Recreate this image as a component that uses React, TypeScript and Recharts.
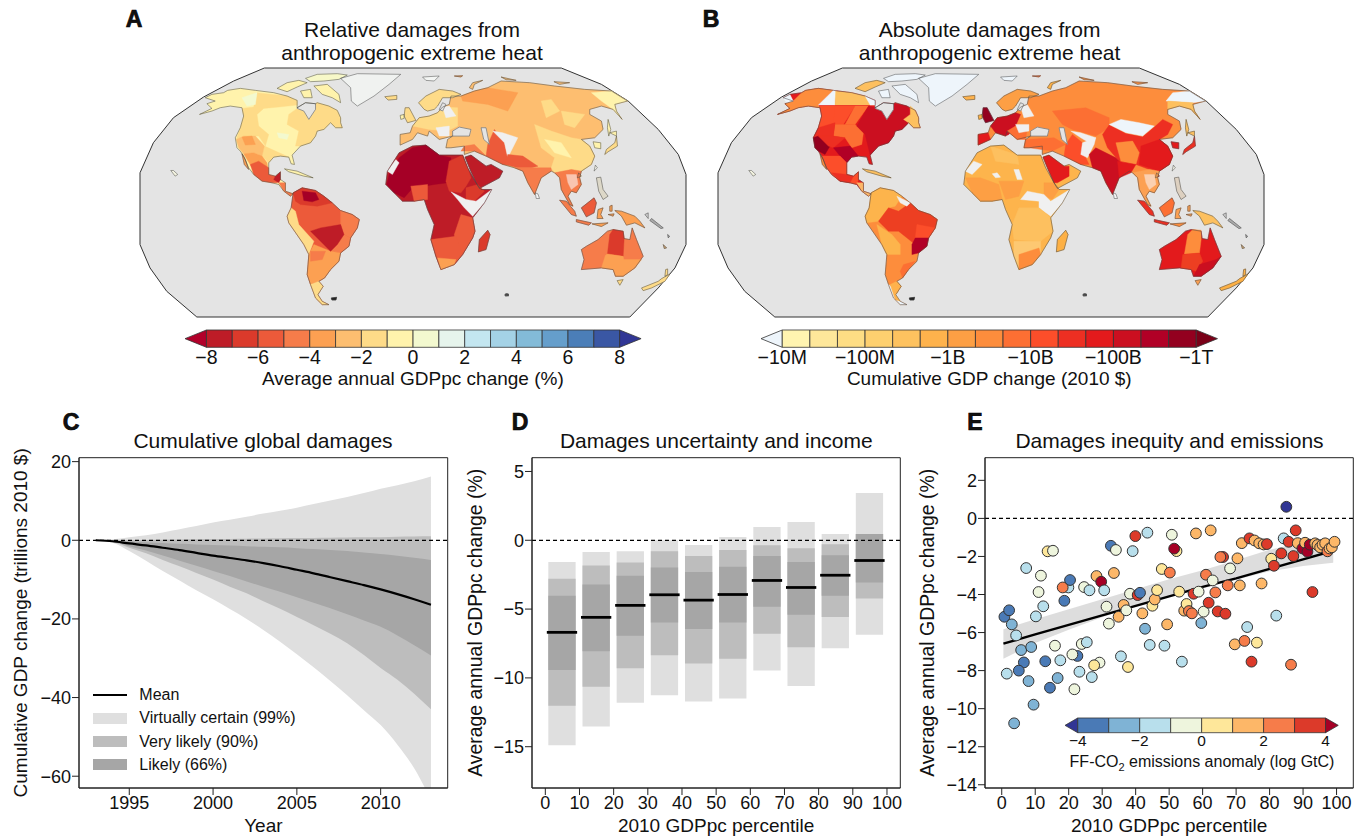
import React from "react";
import {
  ComposedChart, ScatterChart, BarChart, Area, Line, Bar, Scatter, XAxis, YAxis,
  ReferenceLine, ReferenceArea,
} from "recharts";

const FONT = "'Liberation Sans', Arial, sans-serif";
const INK = "#222";

/* ---------- Panel C ---------- */
const years = [1993,1994,1995,1996,1997,1998,1999,2000,2001,2002,2003,2004,2005,2006,2007,2008,2009,2010,2011,2012,2013];
const meanC = [0,-0.25,-0.8,-1.3,-1.9,-2.5,-3.2,-3.9,-4.5,-5.1,-5.8,-6.6,-7.5,-8.4,-9.4,-10.4,-11.4,-12.5,-13.7,-15,-16.4];
const u99 = [0,0.25,0.8,1.3,2,2.8,3.6,4.5,5.2,6,6.8,7.5,8.3,9.2,10.1,11,12,13.1,14,15,16.2];
const l99 = [0,-0.6,-2.7,-5.2,-7.8,-10.2,-12.7,-15,-17.5,-20,-22.8,-25.8,-29,-32.3,-35.8,-39.4,-43.2,-47,-52,-58,-66];
const u90 = [0,0,0,0.1,0.15,0.2,0.25,0.3,0.35,0.4,0.45,0.5,0.55,0.6,0.65,0.7,0.75,0.8,0.9,0.95,1];
const l90 = [0,-0.45,-1.9,-3.3,-5,-6.6,-8.3,-10,-11.8,-13.5,-15.5,-17.4,-19.5,-21.6,-23.8,-26.2,-29.2,-32.5,-35.5,-39,-43];
const u66 = [0,-0.1,-0.3,-0.5,-0.7,-0.9,-1.05,-1.2,-1.35,-1.5,-1.65,-1.8,-2,-2.25,-2.5,-2.75,-3.1,-3.5,-3.95,-4.45,-5];
const l66 = [0,-0.35,-1.5,-2.6,-3.9,-5.2,-6.5,-7.8,-9.1,-10.5,-11.8,-13.1,-14.5,-15.9,-17.3,-18.8,-20.4,-22,-24.2,-26.7,-29.3];
const tableC = years.map((year, i) => ({
  year, mean: meanC[i], outer: [l99[i], u99[i]], mid: [l90[i], u90[i]], inner: [l66[i], u66[i]],
}));

/* ---------- Panel D ---------- */
const binMid = [5,15,25,35,45,55,65,75,85,95];
const dU99 = [-1.57,-0.85,-0.8,0,-0.34,0.24,0.97,1.33,0.46,3.43];
const dU90 = [-2.8,-1.84,-1.62,-0.8,-1.14,-0.7,-0.36,-0.58,-0.29,0.46];
const dU66 = [-4.03,-3.21,-2.58,-1.98,-2.3,-1.93,-1.14,-1.57,-1.09,0.46];
const dL66 = [-9.42,-8.07,-6.93,-5.97,-6.45,-5.97,-4.83,-5.41,-4.03,-3.07];
const dL90 = [-12.03,-10.65,-9.3,-8.36,-8.96,-8.6,-6.79,-7.78,-5.58,-4.23];
const dL99 = [-14.9,-13.53,-11.81,-11.26,-11.71,-11.5,-9.47,-10.58,-7.85,-6.86];
const dMean = [-6.69,-5.6,-4.73,-3.96,-4.35,-3.94,-2.92,-3.43,-2.54,-1.47];
const tableD = binMid.map((bin, i) => ({
  bin, outer: [dL99[i], dU99[i]], mid: [dL90[i], dU90[i]], inner: [dL66[i], dU66[i]],
  mean: [dMean[i] - 0.1, dMean[i] + 0.1],
}));

/* ---------- Panel E ---------- */
const ePct = [0.8,2.2,3.0,4.3,5.8,8.8,6.6,5.1,1.5,8.0,9.5,3.7,7.3,11.7,11.0,12.4,10.2,13.7,15.3,18.7,19.9,20.4,18.2,13.0,14.4,16.7,17.5,15.9,22.6,21.1,21.7,23.2,23.9,25.4,24.6,26.2,26.9,29.2,27.6,28.3,29.7,30.6,31.3,32.0,32.6,34.1,33.5,34.9,35.6,36.4,37.2,37.7,38.3,39.1,39.9,40.6,41.3,42.0,42.8,44.2,43.5,45.0,45.7,46.4,47.8,48.6,49.4,50.2,50.8,52.2,51.5,53.0,53.8,54.5,55.2,55.9,56.8,57.3,58.0,58.8,59.6,60.3,61.0,61.8,62.4,63.0,63.8,64.5,66.1,65.3,66.8,67.5,68.2,69.6,70.4,71.1,71.7,72.5,73.3,74.0,74.6,75.5,76.2,76.9,77.6,78.2,79.2,80.5,81.3,82.0,83.5,84.2,85.0,85.7,86.4,87.1,87.8,88.4,89.8,90.6,91.3,92.0,92.8,93.6,94.3,95.1,95.8,96.6,97.3,97.9,98.6,99.4];
const eDmg = [-5.17,-4.83,-5.57,-6.15,-6.92,-6.76,-7.57,-8.0,-8.16,-8.55,-9.79,-10.77,-2.61,-3.01,-3.87,-4.62,-5.15,-1.73,-1.7,-4.33,-3.63,-3.24,-3.63,-7.51,-8.9,-8.39,-7.46,-6.69,-7.23,-7.15,-8.98,-8.06,-6.6,-6.51,-3.61,-3.78,-8.34,-7.58,-7.72,-3.03,-3.33,-3.78,-4.64,-5.53,-1.44,-1.66,-2.87,-5.17,-7.25,-4.55,-4.83,-7.81,-3.96,-1.72,-0.93,-4.03,-3.91,-4.99,-5.8,-6.65,-0.75,-4.59,-4.26,-3.77,-2.66,-6.69,-5.57,-2.85,-0.86,-1.72,-1.59,-3.85,-7.53,-4.85,-4.5,-4.87,-4.99,-3.96,-0.79,-3.85,-5.5,-4.9,-2.96,-4.43,-0.63,-3.26,-3.89,-4.89,-2.03,-2.03,-5.01,-3.52,-2.63,-6.62,-2.1,-3.52,-1.3,-6.44,-5.71,-1.05,-7.53,-1.16,-6.53,-1.31,-3.42,-1.37,-1.35,-2.12,-2.49,-5.11,-1.84,-1.05,0.61,-1.23,-7.69,-1.98,-0.63,-1.3,-1.58,-1.28,-1.75,-1.38,-3.87,-1.31,-1.4,-1.52,-1.38,-1.31,-1.73,-1.58,-1.52,-1.23];
const eAnom = [-3.5,-3.5,-2.5,-1.5,-2.5,-2.5,-3.5,-3.5,-1.5,-2.5,-2.5,-2.5,-1.5,-0.5,-0.5,-1.5,-1.5,0.5,-0.5,-3.5,-1.5,-3.9,2.5,-3.5,-3.5,-2.5,-1.5,-0.5,-3.5,-0.5,-0.5,-1.5,-0.5,-1.5,-0.5,-1.5,-1.5,-0.5,0.5,1.5,4.5,-1.5,-0.5,-0.5,-3.5,-0.5,1.5,1.5,-1.5,1.5,-0.5,0.5,-0.5,-1.5,3.5,3.5,-3.5,1.5,-2.5,-1.5,-1.5,0.5,1.5,0.5,0.5,-1.5,1.5,2.5,-0.5,0.5,4.5,0.5,-1.5,1.5,0.5,2.5,2.5,3.5,1.5,-0.5,-2.5,-0.5,2.5,3.5,1.5,-0.5,2.5,3.5,3.5,2.5,3.5,2.5,-0.5,1.5,1.5,1.5,1.5,2.5,-1.5,3.5,3.5,1.5,0.5,1.5,1.5,1.5,3.5,0.5,3.5,-1.5,3.5,-1.5,-4.5,3.5,2.5,3.5,3.5,1.5,4.5,1.5,4.5,4.5,3.5,1.5,1.5,1.5,1.5,1.5,2.5,1.5,1.5,1.5];
const anomColors = ["#313695","#4a7ab6","#7fb3d5","#b8dfec","#eef5dd","#fee79a","#fdb768","#f67c4a","#dc3a2a","#a50026"];
const tableEPoints = ePct.map((pct, i) => ({ pct, dmg: eDmg[i], fill: anomColors[Math.floor(eAnom[i]) + 5] }));
const trendPct = [0.5,10,20,30,40,50,60,70,80,90,99];
const trendFit = [-6.58,-6.1,-5.6,-5.1,-4.6,-4.1,-3.6,-3.15,-2.65,-2.15,-1.7];
const trendLo = [-7.38,-6.55,-5.85,-5.2,-4.62,-4.13,-3.68,-3.22,-2.78,-2.5,-2.33];
const trendHi = [-5.82,-5.3,-4.78,-4.25,-3.72,-3.2,-2.72,-2.2,-1.65,-1.25,-1.3];
const tableE = trendPct.map((pct, i) => ({ pct, fit: trendFit[i], band: [trendLo[i], trendHi[i]] }));

/* ---------- Colour bars ---------- */
const relEdges = [-8,-7,-6,-5,-4,-3,-2,-1,0,1,2,3,4,5,6,7,8];
const relColors = ["#be1c27","#db3a2b","#ec5a3a","#f67c4a","#fca052","#fdbe70","#fedb88","#fff3ac","#f3f9cf","#e6f4ec","#c3e6f0","#a4d2e6","#83bbd8","#659ecb","#4b7eb8","#3a57a4"];
const relTicks = [-8,-6,-4,-2,0,2,4,6,8];
const absEdges = [0,1,2,3,4,5,6,7,8,9,10,11,12,13,14,15];
const absColors = ["#fff4b0","#fee79a","#fedd84","#fed06f","#fec25f","#feb24c","#fd9f44","#fd8d3c","#fd6f33","#fc4e2a","#ed2f22","#e31a1c","#cb0f20","#b10026","#93001f"];
const absTicks = [0,3,6,9,12,15];
const absTickLabels = ["\u221210M","\u2212100M","\u22121B","\u221210B","\u2212100B","\u22121T"];
const emEdges = [-4,-3,-2,-1,0,1,2,3,4];
const emColors = ["#4a7ab6","#7fb3d5","#b8dfec","#eef5dd","#fee79a","#fdb768","#f67c4a","#dc3a2a"];
const emTicks = [-4,-2,0,2,4];

/* ---------- Map geometry (projected grid units) ---------- */
const frame = [[372,1],[1260,1],[1380,50],[1460,100],[1550,185],[1610,260],[1633,320],[1633,530],[1600,600],[1550,660],[1465,747],[170,747],[80,670],[30,600],[0,530],[0,315],[40,225],[100,150],[190,88],[280,40]];
const WH = "#f0f0f0", ICE = "#eef5fb";

const naCoast = [[178,140],[215,122],[200,108],[225,100],[195,90],[215,80],[250,75],[262,68],[300,62],[345,68],[400,75],[440,85],[470,98],[470,120],[495,105],[525,108],[530,105],[565,115],[590,128],[600,150],[600,165],[605,180],[585,180],[570,165],[550,185],[530,190],[525,205],[510,225],[480,235],[455,262],[462,290],[452,288],[445,268],[420,265],[400,268],[385,285],[385,320],[405,325],[420,312],[420,335],[435,345],[435,370],[458,378],[450,385],[430,370],[415,350],[395,345],[365,340],[340,320],[325,300],[310,265],[300,250],[290,240],[285,210],[300,180],[310,145],[305,120],[270,115],[240,120],[215,130]];
const saCoast = [[458,375],[485,360],[525,368],[550,385],[575,405],[600,428],[635,440],[656,455],[650,480],[630,510],[625,535],[600,555],[595,580],[570,605],[552,630],[535,640],[548,655],[532,680],[545,700],[565,710],[545,710],[525,690],[510,650],[500,620],[505,560],[490,530],[445,465],[440,445],[452,420]];
const afCoast = [[740,310],[775,255],[815,235],[855,232],[895,262],[965,262],[980,300],[1005,345],[1020,365],[1052,365],[1030,405],[995,450],[1002,490],[995,510],[965,560],[940,590],[900,605],[885,565],[870,515],[880,470],[860,425],[850,395],[820,400],[785,400],[760,375],[735,350]];
const arabia = [[972,268],[990,262],[1035,295],[1050,290],[1085,310],[1075,330],[1015,362],[1005,345],[985,300]];
const eurasia = [[778,232],[778,200],[808,195],[815,175],[835,150],[865,145],[890,135],[905,118],[925,110],[930,85],[960,85],[1000,70],[1040,60],[1080,40],[1165,45],[1240,55],[1330,65],[1410,70],[1458,100],[1420,110],[1425,130],[1442,155],[1415,125],[1380,115],[1345,125],[1345,140],[1380,160],[1385,185],[1360,210],[1320,215],[1345,235],[1360,265],[1350,290],[1320,310],[1315,330],[1320,350],[1305,375],[1290,370],[1280,385],[1295,415],[1285,410],[1260,365],[1255,330],[1240,315],[1230,310],[1200,330],[1180,380],[1160,345],[1145,310],[1120,300],[1085,290],[1035,265],[1000,250],[970,260],[970,235],[930,240],[915,240],[920,215],[935,205],[895,215],[865,190],[860,205],[830,195],[815,215]];
const australia = [[1320,545],[1335,535],[1370,515],[1398,490],[1415,485],[1445,490],[1448,512],[1465,515],[1472,480],[1485,515],[1505,565],[1480,600],[1445,625],[1422,625],[1415,605],[1380,600],[1320,605],[1328,575]];

type Land = [number[][], string, string];
const land: Land[] = [
  [naCoast, "#fff3ac", "#e31a1c"],
  [saCoast, "#ec5a3a", "#fd8d3c"],
  [afCoast, "#be1c27", "#fdb44c"],
  [arabia, "#be1c27", "#fdb44c"],
  [eurasia, "#fdbe70", "#fd8d3c"],
  [australia, "#f67c4a", "#e31a1c"],
  [[[305,258],[315,275],[325,305],[312,290]], "#fca052", "#fd8d3c"],
  [[[600,32],[650,18],[780,20],[745,50],[700,85],[650,115],[632,100],[630,60]], "#f0f2f0", ICE],
  [[[410,62],[440,45],[475,38],[500,45],[470,58],[440,72]], "#fff3ac", "#fdc05f"],
  [[[495,32],[530,20],[590,18],[620,22],[595,35],[550,40],[510,42]], "#f7f8c8", ICE],
  [[[520,55],[560,50],[595,80],[600,105],[575,90],[545,80]], "#fff3ac", ICE],
  [[[480,70],[510,65],[515,90],[490,90]], "#fff3ac", ICE],
  [[[432,303],[470,310],[518,330],[490,325],[445,312]], "#fff3ac", "#fdc05f"],
  [[[92,308],[100,308],[113,320],[105,325]], "#f3f3e0", "#f3f3e0"],
  [[[572,690],[588,688],[586,696],[574,696]], "#222", "#222"],
  [[[1092,678],[1100,678],[1100,684],[1092,684]], "#555", "#555"],
  [[[1095,678],[1102,678],[1102,684]], "#555", "#555"],
  [[[1012,552],[1015,515],[1040,487],[1047,500],[1035,545]], "#db3a2b", "#fdb044"],
  [[[833,105],[855,85],[895,65],[935,70],[960,80],[935,90],[905,90],[890,115],[880,125],[860,130],[850,125]], "#fedb88", "#fd9f44"],
  [[[793,120],[805,120],[825,158],[800,165],[790,145]], "#fedb88", "#93001f"],
  [[[778,143],[790,140],[790,152],[780,155]], "#fff3ac", "#fdb044"],
  [[[732,87],[768,83],[768,95],[742,97]], "#fedb88", "#feb24c"],
  [[[845,28],[895,25],[880,40],[855,38]], "#f3f5f3", ICE],
  [[[985,60],[995,45],[1025,38],[1000,50],[995,65]], "#fdbe70", "#fdb044"],
  [[[1238,42],[1285,45],[1255,50]], "#fdbe70", "#fd8d3c"],
  [[[1080,28],[1125,38],[1095,36]], "#fdbe70", "#fd8d3c"],
  [[[940,25],[965,24],[960,28]], "#fca052", "#fc6f33"],
  [[[1425,205],[1420,225],[1395,245],[1390,260],[1400,252],[1428,235]], "#fedb88", "#ed2f22"],
  [[[1405,195],[1425,190],[1425,205]], "#fff3ac", "#fdc05f"],
  [[[1400,155],[1408,185],[1402,205],[1398,180]], "#fff3ac", "#fdc05f"],
  [[[1355,222],[1378,225],[1378,243],[1360,240]], "#fff3ac", "#e31a1c"],
  [[[1362,292],[1368,300],[1358,310]], "#f3f3e8", "#f3f3e8"],
  [[[1312,315],[1320,325],[1308,330]], "#fedb88", "#ed2f22"],
  [[[1365,330],[1378,328],[1385,365],[1400,385],[1385,395],[1372,370]], "#ddd8c8", "#ddd0c0"],
  [[[1182,375],[1190,378],[1195,392],[1185,392]], "#f3f3f3", "#f3f3f3"],
  [[[1255,397],[1275,400],[1300,430],[1305,445],[1290,440]], "#f67c4a", "#ed2f22"],
  [[[1305,455],[1350,465],[1342,472],[1305,462]], "#f67c4a", "#ed2f22"],
  [[[1352,468],[1400,465],[1380,476]], "#fca052", "#fd8d3c"],
  [[[1320,420],[1358,390],[1365,405],[1358,435],[1335,447]], "#ec5a3a", "#fc6f33"],
  [[[1370,425],[1385,420],[1378,440],[1385,452],[1367,452]], "#fca052", "#fca052"],
  [[[1405,415],[1412,412],[1412,430],[1405,430]], "#fca052", "#fca052"],
  [[[1400,440],[1418,438],[1415,445]], "#fca052", "#fca052"],
  [[[1420,428],[1440,430],[1480,445],[1495,460],[1510,480],[1480,465],[1455,472],[1440,445]], "#fca052", "#fdc05f"],
  [[[1510,440],[1520,435],[1520,452]], "#ccc", "#ccc"],
  [[[1530,452],[1565,480],[1558,482],[1525,458]], "#aaa", "#aaa"],
  [[[1565,530],[1575,540],[1568,542]], "#c8a070", "#c8a070"],
  [[[1578,500],[1584,505],[1580,510]], "#aaa", "#aaa"],
  [[[1427,638],[1445,635],[1435,652]], "#fedb88", "#fca052"],
  [[[1500,660],[1550,640],[1560,632],[1585,618],[1570,640],[1530,660],[1505,668]], "#fedb88", "#fdb044"],
  [[[1570,625],[1572,605],[1578,603],[1578,620]], "#fedb88", "#fdb044"],
];

const seas = [
  [[470,120],[495,105],[525,108],[525,125],[505,155],[490,130],[470,122]],
  [[935,190],[955,178],[990,185],[985,205],[950,205],[935,205]],
  [[1020,180],[1035,180],[1045,230],[1028,215]],
  [[895,125],[905,105],[915,110],[905,130]],
];

type Patch = [number[][], string];
const patchesA: Patch[] = [
  [[[350,75],[440,85],[470,98],[470,112],[415,118],[370,122],[350,140],[355,175],[385,200],[375,235],[355,205],[310,205],[288,215],[300,180],[310,145],[305,122],[340,118]], "#fedb88"],
  [[[445,140],[470,122],[490,130],[505,155],[525,108],[530,105],[565,115],[590,128],[600,150],[600,165],[605,180],[585,180],[570,165],[550,185],[530,190],[525,205],[510,225],[480,235],[465,235],[475,190],[440,170]], "#fedb88"],
  [[[305,90],[350,75],[345,110],[320,115]], "#f3f9cf"],
  [[[410,195],[445,200],[440,215],[415,210]], "#f3f9cf"],
  [[[372,235],[445,268],[420,265],[400,268],[385,285],[365,265]], "#fedb88"],
  [[[288,215],[310,205],[345,205],[372,235],[365,265],[340,255],[310,258],[295,240]], "#fdbe70"],
  [[[305,208],[335,205],[345,230],[315,232]], "#fca052"],
  [[[310,258],[340,255],[365,265],[380,285],[385,320],[350,300],[335,300]], "#fca052"],
  [[[330,290],[355,280],[385,300],[385,320],[405,325],[420,335],[410,345],[395,345],[365,340],[340,320]], "#ec5a3a"],
  [[[405,325],[420,312],[420,335],[415,345],[400,335]], "#be1c27"],
  [[[415,345],[435,345],[435,370],[458,378],[450,385],[430,370]], "#f67c4a"],
  // South America
  [[[458,375],[485,360],[525,368],[550,385],[575,405],[530,415],[480,410],[465,400]], "#db3a2b"],
  [[[485,370],[525,375],[535,395],[515,402],[490,398]], "#a50026"],
  [[[440,445],[452,420],[465,430],[475,470],[520,520],[505,560],[490,530],[445,465]], "#fedb88"],
  [[[600,428],[635,440],[656,455],[650,480],[630,510],[610,500],[600,470]], "#f67c4a"],
  [[[610,500],[630,510],[625,535],[600,555],[570,550],[590,530]], "#f67c4a"],
  [[[505,560],[520,530],[570,550],[600,555],[595,580],[570,605],[552,630],[535,640],[510,650],[500,620]], "#fca052"],
  [[[510,490],[540,480],[600,470],[610,500],[590,530],[570,550],[545,525]], "#be1c27"],
  [[[510,550],[555,550],[545,575],[510,580]], "#f67c4a"],
  [[[510,650],[535,640],[548,655],[532,680],[545,700],[565,710],[545,710],[525,690]], "#fedb88"],
  // Africa
  [[[745,320],[775,270],[815,240],[855,232],[895,262],[930,270],[925,320],[920,345],[880,350],[850,355],[820,355],[790,390],[760,375],[738,350]], "#a50026"],
  [[[740,310],[765,275],[775,285],[755,320]], WH],
  [[[925,280],[965,262],[980,300],[990,330],[975,355],[960,375],[925,370],[915,340]], "#db3a2b"],
  [[[810,355],[860,350],[860,395],[820,400]], "#ec5a3a"],
  [[[975,360],[1010,350],[1030,370],[1000,400],[975,395]], "#db3a2b"],
  [[[930,372],[975,395],[1005,400],[1052,365],[1030,405],[995,445],[970,420],[950,395]], WH],
  [[[960,440],[995,450],[1002,490],[995,510],[965,560],[945,545],[940,500]], "#ec5a3a"],
  [[[870,515],[945,505],[965,560],[940,590],[900,605],[885,565]], "#ec5a3a"],
  [[[890,570],[945,575],[940,590],[900,605]], "#fca052"],
  // Eurasia
  [[[815,175],[835,150],[865,145],[890,135],[905,118],[950,120],[950,175],[920,190],[865,185]], "#fedb88"],
  [[[905,118],[925,115],[945,145],[915,150]], WH],
  [[[885,180],[925,175],[925,205],[895,205]], WH],
  [[[960,85],[1000,70],[1040,60],[1130,75],[1100,130],[1040,110],[965,100]], "#fca052"],
  [[[1200,100],[1230,95],[1255,130],[1215,150]], "#fedb88"],
  [[[1260,130],[1330,140],[1300,180],[1270,170]], "#fedb88"],
  [[[1180,170],[1230,190],[1290,210],[1320,215],[1345,235],[1360,265],[1350,290],[1320,310],[1290,290],[1240,270],[1200,240]], "#fedb88"],
  [[[1210,215],[1260,225],[1290,270],[1240,255]], "#fff3ac"],
  [[[1350,75],[1410,70],[1458,100],[1420,110],[1425,130],[1442,155],[1415,125],[1380,100]], "#fff3ac"],
  [[[1040,230],[1060,185],[1090,225],[1100,270],[1135,290],[1085,290],[1035,265]], "#ec5a3a"],
  [[[1055,190],[1085,195],[1130,210],[1100,270],[1090,225]], WH],
  [[[1100,260],[1145,265],[1190,295],[1170,300],[1130,300],[1090,290]], "#ec5a3a"],
  [[[1120,300],[1230,300],[1230,310],[1200,330],[1180,380],[1160,345],[1145,310]], "#f67c4a"],
  [[[960,250],[1000,250],[1035,265],[1000,230],[970,235]], "#f67c4a"],
  [[[1240,270],[1350,290],[1320,310],[1290,305],[1240,315],[1230,300]], "#fedb88"],
  [[[1240,315],[1290,305],[1320,310],[1315,330],[1320,350],[1305,375],[1290,370],[1280,385],[1295,415],[1285,410],[1260,365],[1255,330]], "#f67c4a"],
  [[[1275,320],[1305,320],[1310,350],[1290,365],[1280,345]], "#f9c5b0"],
  // Australia
  [[[1405,500],[1415,485],[1445,490],[1448,512],[1445,565],[1398,558]], "#db3a2b"],
  [[[1380,600],[1392,562],[1398,558],[1445,565],[1447,575],[1500,575],[1480,600],[1445,625],[1422,625],[1415,605]], "#fca052"],
];

const patchesB: Patch[] = [
  [[[178,140],[215,122],[200,108],[225,100],[250,75],[262,68],[300,62],[345,68],[300,112],[305,120],[270,115],[240,120],[215,130]], "#fd8d3c"],
  [[[195,90],[215,80],[225,100],[205,105]], ICE],
  [[[345,68],[355,70],[350,112],[300,112]], ICE],
  [[[352,70],[400,75],[440,85],[470,112],[350,112]], "#fdc05f"],
  [[[440,85],[470,98],[470,120],[480,112],[455,112]], ICE],
  [[[305,115],[350,115],[350,165],[310,180],[300,180],[310,145]], "#fc4e2a"],
  [[[350,115],[410,115],[375,170],[345,170]], "#fc4e2a"],
  [[[410,115],[450,115],[410,170],[380,170]], "#fd6f33"],
  [[[350,170],[385,170],[410,170],[435,195],[430,230],[400,240],[380,210],[345,205]], "#fc6f33"],
  [[[300,180],[350,165],[345,205],[300,205],[285,210]], "#ed2f22"],
  [[[285,210],[300,205],[335,235],[320,260],[300,250],[290,240]], "#93001f"],
  [[[300,205],[345,205],[380,210],[345,240],[330,235]], "#ed2f22"],
  [[[450,115],[470,120],[490,130],[505,155],[525,108],[565,115],[580,135],[570,165],[550,185],[530,190],[525,205],[510,225],[480,235],[455,262],[440,200],[415,175]], "#cb0f20"],
  [[[575,115],[590,128],[600,150],[600,165],[605,180],[585,180],[570,165],[555,155],[575,140]], "#fdc05f"],
  [[[345,240],[395,235],[420,265],[400,268],[385,285],[365,265]], "#b10026"],
  [[[310,265],[365,265],[385,285],[385,320],[405,325],[420,312],[420,335],[415,350],[395,345],[365,340],[340,320],[325,300]], "#fc4e2a"],
  [[[340,315],[385,320],[405,325],[395,345],[365,340]], "#ed2f22"],
  [[[415,345],[435,345],[435,370],[458,378],[450,385],[430,370]], "#fdb768"],
  // South America
  [[[458,375],[485,360],[525,368],[550,385],[530,415],[510,420],[480,460],[445,465],[440,445],[452,420]], "#fdb44c"],
  [[[480,460],[510,420],[540,430],[575,405],[600,428],[635,440],[656,455],[650,480],[630,510],[600,500],[590,530],[540,490],[510,490]], "#ed3f22"],
  [[[535,385],[575,405],[565,415],[545,405]], WH],
  [[[595,470],[650,480],[630,510],[590,510]], "#fc4e2a"],
  [[[590,510],[630,510],[625,535],[600,555],[580,560],[580,530]], "#b10026"],
  [[[475,470],[520,500],[545,530],[545,560],[505,560],[490,530]], "#fdb44c"],
  [[[555,590],[590,580],[570,605],[552,630],[545,610]], "#fc6f33"],
  [[[510,650],[525,690],[545,710],[565,710],[545,700],[525,660]], ICE],
  [[[515,650],[535,640],[548,655],[532,680],[545,700],[530,695]], "#feb24c"],
  // Africa
  [[[740,310],[765,280],[790,290],[760,320]], WH],
  [[[815,235],[895,262],[900,290],[830,280]], "#fdc05f"],
  [[[740,330],[785,330],[840,350],[850,395],[820,400],[785,400],[760,375]], "#fd9f44"],
  [[[840,340],[915,340],[900,385],[860,395]], "#fd9f44"],
  [[[820,318],[835,315],[845,328],[830,330]], WH],
  [[[885,305],[900,305],[910,335],[895,335]], WH],
  [[[975,345],[1005,345],[1020,365],[1000,395],[975,385]], "#fd9f44"],
  [[[925,370],[975,380],[995,400],[1052,365],[1030,405],[995,445],[960,420],[960,400],[905,395]], WH],
  [[[900,420],[960,420],[995,450],[1002,490],[965,520],[885,515],[880,470]], "#fdc05f"],
  [[[885,520],[965,520],[965,560],[940,590],[900,605],[885,565]], "#fdc872"],
  [[[900,560],[960,540],[965,560],[940,590],[900,605]], "#fd8d3c"],
  [[[972,268],[990,262],[1035,295],[1050,295],[1050,325],[1015,345],[1005,345],[985,300]], "#e31a1c"],
  // Eurasia
  [[[815,175],[835,150],[865,145],[890,135],[905,140],[890,175],[870,200],[860,205],[830,195]], "#cb0f20"],
  [[[778,232],[778,200],[808,195],[815,215]], "#e31a1c"],
  [[[890,175],[925,180],[920,215],[895,215],[865,190]], "#fc6f33"],
  [[[905,118],[925,110],[945,145],[915,150]], WH],
  [[[890,170],[930,170],[930,190],[900,195]], WH],
  [[[1000,130],[1100,120],[1170,150],[1170,180],[1130,205],[1060,185],[1030,170]], "#fc6f33"],
  [[[930,240],[915,240],[920,215],[1005,210],[1040,230],[1000,250]], "#fd6f33"],
  [[[1035,265],[1040,230],[1060,200],[1090,225],[1100,270],[1110,290],[1085,290]], "#fc4e2a"],
  [[[1055,190],[1085,195],[1130,210],[1110,225],[1085,210]], WH],
  [[[1090,225],[1130,210],[1125,230],[1105,270],[1085,260]], WH],
  [[[1150,200],[1170,172],[1220,197],[1270,207],[1305,178],[1330,155],[1360,170],[1345,200],[1320,215],[1345,235],[1360,265],[1350,290],[1320,310],[1290,305],[1250,290],[1200,280],[1165,240]], "#ed2f22"],
  [[[1170,170],[1205,155],[1260,165],[1305,175],[1270,205],[1220,195]], ICE],
  [[[1190,225],[1240,220],[1260,255],[1250,290],[1205,280]], "#fd8d3c"],
  [[[1265,235],[1320,215],[1345,235],[1360,265],[1350,290],[1320,310],[1290,300],[1260,290]], "#e31a1c"],
  [[[1110,260],[1130,240],[1190,270],[1230,310],[1200,330],[1180,380],[1160,345],[1145,310],[1120,300]], "#cb0f20"],
  [[[1195,280],[1250,290],[1235,315],[1200,330]], "#e31a1c"],
  [[[1360,75],[1410,70],[1458,100],[1420,105],[1340,100]], ICE],
  [[[1345,100],[1420,105],[1425,130],[1442,155],[1415,125],[1380,115],[1345,125]], "#fdc05f"],
  [[[1240,315],[1290,305],[1320,310],[1315,330],[1320,350],[1305,375],[1290,370],[1280,385],[1295,415],[1285,410],[1260,365],[1255,330]], "#fca052"],
  [[[1275,320],[1305,320],[1310,350],[1290,365],[1280,345]], "#fbd0b0"],
  // Australia
  [[[1405,500],[1420,485],[1445,487],[1445,515],[1440,555],[1395,558]], "#fd8d3c"],
  [[[1390,560],[1440,555],[1450,580],[1430,610],[1415,605],[1385,600]], "#ed3f22"],
  [[[1440,590],[1490,575],[1505,565],[1480,600],[1445,625],[1422,625],[1430,610]], "#cb0f20"],
];

const toPts = (a: number[][]) => [...a, a[0]].map(([x, y]) => ({ x, y }));
const Blank = () => <g />;

function MapChart({ left, idx, patches }: { left: number; idx: 1 | 2; patches: Patch[] }) {
  return (
    <div style={{ position: "absolute", left: left - 1, top: 67.3 }}>
      <ScatterChart width={548} height={251} margin={{ top: 1, right: 1, bottom: 1, left: 1 }}>
        <XAxis type="number" dataKey="x" domain={[0, 1633]} hide />
        <YAxis type="number" dataKey="y" domain={[1, 747]} reversed hide />
        <Scatter data={toPts(frame)} shape={Blank} isAnimationActive={false}
          line={{ fill: "#e4e4e4", stroke: "#333", strokeWidth: 1 }} />
        {land.map((r, i) => (
          <Scatter key={"l" + i} data={toPts(r[0])} shape={Blank} isAnimationActive={false}
            line={{ fill: r[idx], stroke: r[idx], strokeWidth: 0.5 }} />
        ))}
        {patches.map((p, i) => (
          <Scatter key={"p" + i} data={toPts(p[0])} shape={Blank} isAnimationActive={false}
            line={{ fill: p[1], stroke: p[1], strokeWidth: 0.4 }} />
        ))}
        {seas.map((s, i) => (
          <Scatter key={"s" + i} data={toPts(s)} shape={Blank} isAnimationActive={false}
            line={{ fill: "#e4e4e4", stroke: "#e4e4e4", strokeWidth: 0.5 }} />
        ))}
        {land.map((r, i) => (
          <Scatter key={"o" + i} data={toPts(r[0])} shape={Blank} isAnimationActive={false}
            line={{ fill: "none", stroke: "#444", strokeWidth: 0.5 }} />
        ))}
        {seas.map((s, i) => (
          <Scatter key={"so" + i} data={toPts(s)} shape={Blank} isAnimationActive={false}
            line={{ fill: "none", stroke: "#444", strokeWidth: 0.5 }} />
        ))}
      </ScatterChart>
    </div>
  );
}

/* ---------- Generic colour bar ---------- */
function ColorBar(props: {
  left: number; top: number; width: number; barH: number; edges: number[]; colors: string[];
  capL: string; capR: string; capSize: number; ticks: number[]; labels?: string[]; fontSize: number; axisH: number; tickGap: number;
}) {
  const { left, top, width, barH, edges, colors, capL, capR, capSize, ticks, labels, fontSize, axisH, tickGap } = props;
  const lo = edges[0], hi = edges[edges.length - 1];
  const row: Record<string, unknown> = { name: "bar", capL: [lo - capSize, lo], capR: [hi, hi + capSize] };
  colors.forEach((_, i) => { row["b" + i] = [edges[i], edges[i + 1]]; });
  const fmt = (v: number) => {
    if (labels) return labels[ticks.indexOf(v)];
    return String(v).replace("-", "\u2212");
  };
  const capShape = (side: number, fill: string) => (p: any) => {
    const tipX = side < 0 ? p.x : p.x + p.width;
    const baseX = side < 0 ? p.x + p.width : p.x;
    return <polygon points={`${baseX},${p.y} ${tipX},${p.y + p.height / 2} ${baseX},${p.y + p.height}`} fill={fill} stroke="#333" strokeWidth={0.8} />;
  };
  return (
    <div style={{ position: "absolute", left: left - 20, top: top - 2 }}>
      <BarChart layout="vertical" width={width + 40} height={barH + axisH + 4} data={[row]}
        margin={{ top: 1, right: 20, bottom: 0, left: 20 }} barSize={barH} barGap={-barH}>
        <XAxis type="number" domain={[lo - capSize, hi + capSize]} ticks={ticks} tickFormatter={fmt} interval={0}
          axisLine={false} tickLine={false} tickSize={0} tickMargin={tickGap} height={axisH + 1}
          tick={{ fontSize, fill: "#111" }} />
        <YAxis type="category" dataKey="name" hide />
        <Bar dataKey="capL" isAnimationActive={false} shape={capShape(-1, capL)} />
        {colors.map((c, i) => (
          <Bar key={i} dataKey={"b" + i} fill={c} stroke="#333" strokeWidth={0.8} isAnimationActive={false} />
        ))}
        <Bar dataKey="capR" isAnimationActive={false} shape={capShape(1, capR)} />
      </BarChart>
    </div>
  );
}

/* ---------- Text helper ---------- */
function Txt({ cx, cy, size, children, bold }: { cx: number; cy: number; size: number; children: React.ReactNode; bold?: boolean }) {
  return (
    <div style={{
      position: "absolute", left: cx - 300, width: 600, top: cy - size * 0.6, lineHeight: `${size * 1.2}px`, textAlign: "center",
      fontSize: size, color: "#111", fontWeight: bold ? 700 : 400, whiteSpace: "nowrap",
      WebkitTextStroke: bold ? "0.7px #000" : undefined,
    }}>{children}</div>
  );
}

const minus = (v: number) => String(v).replace("-", "\u2212");
const tickStyle = { fontSize: 18, fill: "#111" };
const Y_LABEL = (value: string, offset: number, fontSize = 19) => ({
  value, angle: -90, position: "insideLeft" as const, offset, textAnchor: "middle" as const, style: { fontSize, fill: "#111", textAnchor: "middle" },
});
const X_LABEL = (value: string) => ({
  value, position: "insideBottom" as const, offset: 4, style: { fontSize: 19, fill: "#111" },
});

const meanShape = (p: any) => <rect x={p.x - 1.5} y={p.y} width={p.width + 3} height={Math.max(p.height, 2.6)} fill="#000" />;
const dotShape = (p: any) => <circle cx={p.cx} cy={p.cy} r={5.4} fill={p.payload.fill} stroke="#333" strokeWidth={1} />;

export default function App() {
  return (
    <div style={{ position: "absolute", left: 0, top: 0, width: 1367, height: 836, overflow: "hidden", background: "#fff", fontFamily: FONT }}>
      <Txt cx={134} cy={20} size={23} bold>A</Txt>
      <Txt cx={711} cy={20} size={23} bold>B</Txt>
      <Txt cx={71} cy={422.5} size={23} bold>C</Txt>
      <Txt cx={520} cy={422.5} size={23} bold>D</Txt>
      <Txt cx={975} cy={422.5} size={23} bold>E</Txt>

      <Txt cx={412} cy={29.3} size={21}>Relative damages from</Txt>
      <Txt cx={412} cy={52.3} size={21}>anthropogenic extreme heat</Txt>
      <Txt cx={989.6} cy={29.3} size={21}>Absolute damages from</Txt>
      <Txt cx={989.6} cy={52.3} size={21}>anthropogenic extreme heat</Txt>

      <MapChart left={140} idx={1} patches={patchesA} />
      <MapChart left={718} idx={2} patches={patchesB} />

      <ColorBar left={184.6} top={330} width={456.1} barH={17.3} edges={relEdges} colors={relColors}
        capL="#b2002a" capR="#313695" capSize={0.83} ticks={relTicks} fontSize={19.5} axisH={28} tickGap={2} />
      <Txt cx={412.9} cy={379.3} size={19}>Average annual GDPpc change (%)</Txt>

      <ColorBar left={761.4} top={330} width={456.5} barH={17.3} edges={absEdges} colors={absColors}
        capL="#eef5fb" capR="#7a0018" capSize={0.77} ticks={absTicks} labels={absTickLabels} fontSize={19.5} axisH={28} tickGap={2} />
      <Txt cx={989.3} cy={379.3} size={19}>Cumulative GDP change (2010 $)</Txt>

      {/* Panel C */}
      <Txt cx={263} cy={440.7} size={21}>Cumulative global damages</Txt>
      <div style={{ position: "absolute", left: 0, top: 440 }}>
        <ComposedChart width={460} height={396} data={tableC} margin={{ top: 17.7, right: 12.3, bottom: 0, left: 0 }}>
          <XAxis type="number" dataKey="year" domain={[1992, 2014]} ticks={[1995,2000,2005,2010]} interval={0}
            height={48} tick={tickStyle} tickSize={7} tickMargin={1} stroke={INK} label={X_LABEL("Year")} />
          <YAxis type="number" domain={[-63, 21]} ticks={[-60,-40,-20,0,20]} interval={0} allowDataOverflow
            width={79} tick={tickStyle} tickSize={7} tickMargin={1} tickFormatter={minus} stroke={INK}
            label={Y_LABEL("Cumulative GDP change (trillions 2010 $)", 20.7)} />
          <Area dataKey="outer" type="monotone" fill="#dfdfdf" fillOpacity={1} stroke="none" isAnimationActive={false} />
          <Area dataKey="mid" type="monotone" fill="#bdbdbd" fillOpacity={1} stroke="none" isAnimationActive={false} />
          <Area dataKey="inner" type="monotone" fill="#a6a6a6" fillOpacity={1} stroke="none" isAnimationActive={false} />
          <Line dataKey="mean" type="monotone" stroke="#000" strokeWidth={2.2} dot={false} isAnimationActive={false} />
          <ReferenceLine y={0} stroke="#000" strokeWidth={1.2} strokeDasharray="4 3" />
          <ReferenceArea x1={1992} x2={2014} y1={-63} y2={21} fill="none" stroke={INK} strokeWidth={1} ifOverflow="visible" />
        </ComposedChart>
      </div>
      <div style={{ position: "absolute", left: 93.3, top: 693.8, width: 33.7, height: 2, background: "#000" }} />
      <div style={{ position: "absolute", left: 93.3, top: 712.7, width: 33.7, height: 11.3, background: "#dfdfdf" }} />
      <div style={{ position: "absolute", left: 93.3, top: 736, width: 33.7, height: 11.3, background: "#bdbdbd" }} />
      <div style={{ position: "absolute", left: 93.3, top: 759, width: 33.7, height: 11.3, background: "#a6a6a6" }} />
      {[["Mean", 695], ["Virtually certain (99%)", 718.3], ["Very likely (90%)", 741.7], ["Likely (66%)", 765]].map(([t, y]) => (
        <div key={t as string} style={{ position: "absolute", left: 139.3, top: (y as number) - 10, lineHeight: "20px", fontSize: 16, color: "#111", whiteSpace: "nowrap" }}>{t}</div>
      ))}

      {/* Panel D */}
      <Txt cx={716.3} cy={441} size={21}>Damages uncertainty and income</Txt>
      <div style={{ position: "absolute", left: 460, top: 440 }}>
        <ComposedChart width={450} height={396} data={tableD} margin={{ top: 17.7, right: 9.7, bottom: 0, left: 0 }}
          barSize={27.3} barGap={-27.3}>
          <XAxis type="number" dataKey="bin" domain={[-3.9, 103.9]} ticks={[0,10,20,30,40,50,60,70,80,90,100]} interval={0}
            height={48} tick={tickStyle} tickSize={7} tickMargin={1} stroke={INK} label={X_LABEL("2010 GDPpc percentile")} />
          <YAxis type="number" domain={[-18, 6]} ticks={[-15,-10,-5,0,5]} interval={0}
            width={72} tick={tickStyle} tickSize={7} tickMargin={1} tickFormatter={minus} stroke={INK}
            label={Y_LABEL("Average annual GDPpc change (%)", 15, 19.4)} />
          <Bar dataKey="outer" fill="#dfdfdf" isAnimationActive={false} />
          <Bar dataKey="mid" fill="#bdbdbd" isAnimationActive={false} />
          <Bar dataKey="inner" fill="#a6a6a6" isAnimationActive={false} />
          <Bar dataKey="mean" fill="#000" shape={meanShape} isAnimationActive={false} />
          <ReferenceLine y={0} stroke="#000" strokeWidth={1.2} strokeDasharray="4 3" />
          <ReferenceArea x1={-3.9} x2={103.9} y1={-18} y2={6} fill="none" stroke={INK} strokeWidth={1} ifOverflow="visible" />
        </ComposedChart>
      </div>

      {/* Panel E */}
      <Txt cx={1169.5} cy={441} size={21}>Damages inequity and emissions</Txt>
      <div style={{ position: "absolute", left: 910, top: 440 }}>
        <ComposedChart width={457} height={396} data={tableE} margin={{ top: 17.7, right: 13.7, bottom: 0, left: 0 }}>
          <XAxis type="number" dataKey="pct" domain={[-5, 105]} ticks={[0,10,20,30,40,50,60,70,80,90,100]} interval={0}
            height={48} tick={tickStyle} tickSize={7} tickMargin={1} stroke={INK} label={X_LABEL("2010 GDPpc percentile")} />
          <YAxis type="number" domain={[-14.17, 3.19]} ticks={[-14,-12,-10,-8,-6,-4,-2,0,2]} interval={0}
            width={75} tick={tickStyle} tickSize={7} tickMargin={1} tickFormatter={minus} stroke={INK}
            label={Y_LABEL("Average annual GDPpc change (%)", 17.3, 19.4)} />
          <ReferenceLine y={0} stroke="#000" strokeWidth={1.2} strokeDasharray="4 3" />
          <Scatter data={tableEPoints} dataKey="dmg" isAnimationActive={false} shape={dotShape} />
          <Area dataKey="band" type="linear" fill="#666" fillOpacity={0.22} stroke="none" isAnimationActive={false} />
          <Line dataKey="fit" type="linear" stroke="#000" strokeWidth={2.4} dot={false} isAnimationActive={false} />
          <ReferenceArea x1={-5} x2={105} y1={-14.17} y2={3.19} fill="none" stroke={INK} strokeWidth={1} ifOverflow="visible" />
        </ComposedChart>
      </div>
      <ColorBar left={1065} top={718} width={273.3} barH={14.7} edges={emEdges} colors={emColors}
        capL="#313695" capR="#a50026" capSize={0.41} ticks={emTicks} fontSize={15.5} axisH={24} tickGap={1} />
      <div style={{ position: "absolute", left: 902, width: 600, top: 752, lineHeight: "20px", fontSize: 16, color: "#111", textAlign: "center", whiteSpace: "nowrap" }}>
        FF-CO<sub style={{ fontSize: 11, lineHeight: 0 }}>2</sub> emissions anomaly (log GtC)
      </div>
    </div>
  );
}
